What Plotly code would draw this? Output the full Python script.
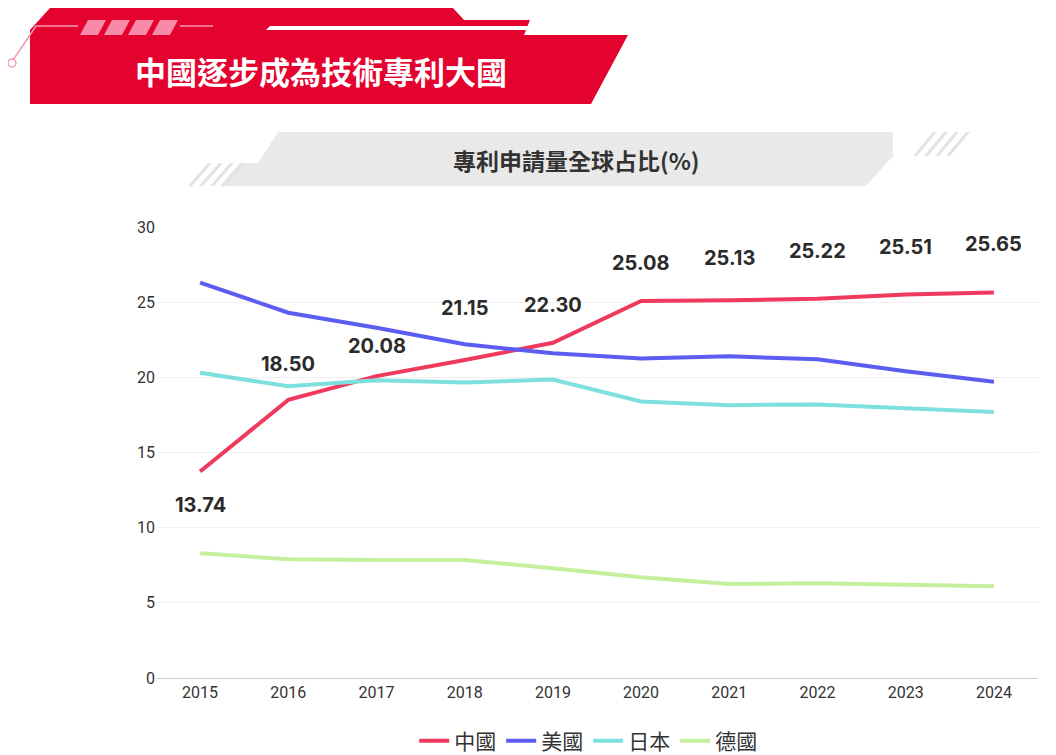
import plotly.graph_objects as go

years = [2015, 2016, 2017, 2018, 2019, 2020, 2021, 2022, 2023, 2024]
china = [13.74, 18.50, 20.08, 21.15, 22.30, 25.08, 25.13, 25.22, 25.51, 25.65]
usa = [26.3, 24.3, 23.3, 22.2, 21.6, 21.25, 21.4, 21.2, 20.4, 19.7]
japan = [20.3, 19.4, 19.8, 19.65, 19.85, 18.4, 18.15, 18.2, 17.95, 17.7]
germany = [8.3, 7.9, 7.85, 7.85, 7.3, 6.7, 6.25, 6.3, 6.2, 6.1]
names = ["中國", "美國", "日本", "德國"]
colors = ["#ef3a5d", "#5b5cf0", "#7de0de", "#c4ef9c"]
label_shift = [-34, 36, 30, 52, 38, 38, 42, 48, 48, 48]

L, R, T, B = 148, 1030, 219, 670
def px(x): return (x - L) / (R - L)
def py(y): return (B - y) / (B - T)
def path(pts):
    return "M " + " L ".join(f"{px(x):.5f},{py(y):.5f}" for x, y in pts) + " Z"

fig = go.Figure()
for n, v, c in zip(names, [china, usa, japan, germany], colors):
    fig.add_trace(go.Scatter(x=years, y=v, name=n, mode="lines",
                             line=dict(color=c, width=4), hoverinfo="x+y"))

ann = []
for x, v, s in zip(years, china, label_shift):
    ann.append(dict(x=x, y=v, text=f"<b>{v:.2f}</b>", showarrow=False, yshift=s,
                    font=dict(size=20, color="#2b2b2b", family="Inter")))

shapes = []
shapes.append(dict(type="path", xref="paper", yref="paper", line=dict(width=0), fillcolor="#e4032e",
                   path=path([(22, 96), (22, 22), (42, 0), (445, 0), (456, 12), (522, 12), (516, 27), (620, 27), (583, 96)])))
shapes.append(dict(type="path", xref="paper", yref="paper", line=dict(width=0), fillcolor="white",
                   path=path([(262, 18), (612, 18), (610, 22), (258, 22)])))
for i in range(4):
    x0 = 72 + i * 24
    shapes.append(dict(type="path", xref="paper", yref="paper", line=dict(width=0), fillcolor="#f68aa8",
                       path=path([(x0 + 8, 12), (x0 + 26, 12), (x0 + 18, 27), (x0, 27)])))
shapes.append(dict(type="path", xref="paper", yref="paper", line=dict(color="#f39ab3", width=1.5),
                   path="M %f,%f L %f,%f L %f,%f" % (px(5), py(52), px(28), py(18), px(70), py(18))))
shapes.append(dict(type="line", xref="paper", yref="paper", line=dict(color="#f39ab3", width=1.5),
                   x0=px(172), y0=py(18), x1=px(205), y1=py(18)))
shapes.append(dict(type="circle", xref="paper", yref="paper", line=dict(color="#f39ab3", width=1.5),
                   fillcolor="white", x0=px(0), x1=px(8), y0=py(51), y1=py(59)))
shapes.append(dict(type="path", xref="paper", yref="paper", line=dict(width=0), fillcolor="#e9e9e9",
                   path=path([(270, 124), (885, 124), (885, 148), (858, 178), (212, 178), (232, 155), (250, 155)])))
for i in range(4):
    x0 = 180 + i * 11
    shapes.append(dict(type="path", xref="paper", yref="paper", line=dict(width=0), fillcolor="#e3e3e3",
                       path=path([(x0 + 20, 155), (x0 + 24, 155), (x0 + 4, 178), (x0, 178)])))
    x1 = 905 + i * 11
    shapes.append(dict(type="path", xref="paper", yref="paper", line=dict(width=0), fillcolor="#e3e3e3",
                       path=path([(x1 + 20, 124), (x1 + 24, 124), (x1 + 4, 148), (x1, 148)])))

ann.append(dict(xref="paper", yref="paper", x=px(313), y=py(62), xanchor="center", yanchor="middle",
                text="<b>中國逐步成為技術專利大國</b>",
                showarrow=False, font=dict(size=31, color="white", family="Noto Sans CJK TC")))
ann.append(dict(xref="paper", yref="paper", x=px(568), y=py(152), xanchor="center", yanchor="middle",
                text="<b>專利申請量全球占比(%)</b>",
                showarrow=False, font=dict(size=23, color="#333333", family="Noto Sans CJK TC")))

fig.update_layout(
    width=1056, height=755, margin=dict(l=L, r=1056 - R, t=T, b=755 - B, autoexpand=False),
    paper_bgcolor="white", plot_bgcolor="white",
    shapes=shapes, annotations=ann,
    font=dict(family="Roboto", color="#333333"),
    xaxis=dict(range=[2014.5, 2024.5], tickvals=years, showgrid=False, showline=True, automargin=False,
               linecolor="#cccccc", ticks="", tickfont=dict(size=16), fixedrange=True),
    yaxis=dict(range=[0, 30], tickvals=[0, 5, 10, 15, 20, 25, 30], gridcolor="#f0f0f0", automargin=False,
               zeroline=False, tickfont=dict(size=16), ticksuffix="  "),
    legend=dict(orientation="h", x=0.49, xanchor="center", y=py(733), yanchor="middle",
                font=dict(size=21, family="Noto Sans CJK TC")),
    showlegend=True,
)
fig.write_html("out.html")
